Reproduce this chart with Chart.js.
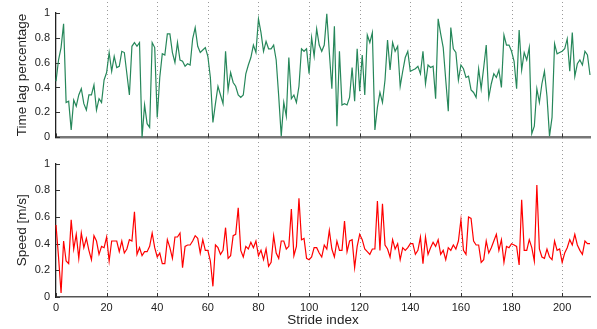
<!DOCTYPE html>
<html>
<head>
<meta charset="utf-8">
<script src="https://cdn.jsdelivr.net/npm/chart.js@4.4.1/dist/chart.umd.min.js"></script>
<style>
html, body { margin: 0; padding: 0; background: #fff; }
#wrap { position: relative; width: 597px; height: 329px; }
canvas { position: absolute; left: 0; }
#lagChart { top: 0; }
#speedChart { top: 150px; }
</style>
</head>
<body>
<div id="wrap">
  <canvas id="lagChart" width="597" height="150"></canvas>
  <canvas id="speedChart" width="597" height="179"></canvas>
</div>
<script>
// data
const timeLag = [
  0.45,0.62,0.72,0.91,0.28,0.29,0.06,0.30,0.25,0.34,
  0.39,0.27,0.22,0.34,0.34,0.42,0.22,0.31,0.28,0.46,
  0.52,0.68,0.53,0.65,0.56,0.57,0.69,0.68,0.51,0.34,
  0.73,0.76,0.73,0.76,0.00,0.26,0.11,0.08,0.76,0.72,
  0.16,0.48,0.67,0.66,0.83,0.83,0.68,0.60,0.76,0.62,
  0.61,0.57,0.59,0.58,0.79,0.88,0.73,0.68,0.70,0.72,
  0.65,0.48,0.12,0.27,0.41,0.34,0.27,0.69,0.38,0.52,
  0.44,0.41,0.34,0.32,0.34,0.51,0.58,0.64,0.74,0.68,
  0.95,0.84,0.69,0.77,0.71,0.71,0.74,0.62,0.33,0.01,
  0.28,0.17,0.64,0.31,0.34,0.28,0.41,0.71,0.69,0.71,
  0.51,0.80,0.65,0.87,0.74,0.69,0.74,0.99,0.68,0.39,
  0.89,0.09,0.69,0.26,0.27,0.26,0.32,0.56,0.29,0.71,
  0.37,0.66,0.34,0.82,0.76,0.84,0.06,0.24,0.36,0.28,
  0.46,0.78,0.54,0.76,0.69,0.73,0.41,0.53,0.64,0.69,
  0.53,0.54,0.55,0.57,0.51,0.69,0.43,0.58,0.56,0.57,
  0.31,0.95,0.83,0.72,0.46,0.21,0.88,0.71,0.68,0.46,
  0.58,0.55,0.48,0.49,0.38,0.36,0.32,0.55,0.39,0.56,
  0.74,0.32,0.43,0.51,0.48,0.54,0.40,0.82,0.74,0.74,
  0.69,0.61,0.39,0.86,0.54,0.68,0.62,0.72,0.03,0.09,
  0.39,0.28,0.43,0.53,0.33,0.01,0.16,0.75,0.67,0.68,
  0.69,0.71,0.79,0.53,0.84,0.49,0.59,0.62,0.58,0.69,
  0.66,0.50
];
const speed = [
  0.54,0.30,0.03,0.42,0.27,0.25,0.58,0.36,0.47,0.29,
  0.48,0.37,0.44,0.35,0.28,0.46,0.42,0.32,0.38,0.37,
  0.45,0.27,0.42,0.42,0.42,0.34,0.42,0.33,0.36,0.43,
  0.42,0.64,0.32,0.37,0.31,0.34,0.34,0.38,0.48,0.37,
  0.30,0.33,0.25,0.25,0.43,0.37,0.29,0.45,0.45,0.48,
  0.22,0.38,0.39,0.39,0.42,0.46,0.44,0.33,0.43,0.35,
  0.35,0.27,0.08,0.39,0.37,0.32,0.35,0.52,0.29,0.31,
  0.46,0.47,0.67,0.35,0.30,0.38,0.36,0.41,0.37,0.42,
  0.31,0.35,0.28,0.36,0.23,0.26,0.46,0.33,0.29,0.42,
  0.42,0.36,0.38,0.66,0.31,0.38,0.74,0.43,0.44,0.29,
  0.28,0.30,0.37,0.37,0.33,0.30,0.39,0.36,0.50,0.36,
  0.30,0.42,0.35,0.35,0.57,0.34,0.42,0.43,0.22,0.38,
  0.47,0.43,0.36,0.34,0.32,0.36,0.36,0.72,0.35,0.70,
  0.39,0.36,0.30,0.43,0.36,0.40,0.28,0.37,0.35,0.37,
  0.40,0.40,0.32,0.35,0.45,0.25,0.45,0.32,0.37,0.41,
  0.38,0.43,0.32,0.35,0.28,0.37,0.35,0.39,0.36,0.42,
  0.58,0.35,0.32,0.60,0.59,0.42,0.39,0.39,0.26,0.28,
  0.42,0.33,0.37,0.42,0.47,0.35,0.43,0.26,0.38,0.37,
  0.40,0.39,0.38,0.24,0.73,0.35,0.35,0.43,0.37,0.27,
  0.84,0.36,0.30,0.29,0.36,0.30,0.28,0.42,0.35,0.36,
  0.26,0.33,0.37,0.43,0.39,0.47,0.39,0.35,0.32,0.42,
  0.40,0.40
];
const strideIdx = timeLag.map((_, i) => i);
const xTicks = [0, 20, 40, 60, 80, 100, 120, 140, 160, 180, 200];
const yTicks = [0, 0.2, 0.4, 0.6, 0.8, 1];

Chart.defaults.font.family = "'Liberation Sans', Arial, sans-serif";
Chart.defaults.color = '#222';

// dotted vertical grid + small inward ticks (matlab style)
const dotGrid = {
  id: 'dotGrid',
  beforeDatasetsDraw(chart, args, opts) {
    const { ctx, chartArea, scales: { x, y } } = chart;
    const bottom = opts.bottom == null ? chartArea.bottom : opts.bottom;
    ctx.save();
    ctx.strokeStyle = '#9a9a9a';
    ctx.lineWidth = 1;
    ctx.setLineDash([1, 3]);
    xTicks.forEach(v => {
      if (v === 0) return;
      const px = Math.round(x.getPixelForValue(v)) + 0.5;
      ctx.beginPath();
      ctx.moveTo(px, opts.top);
      ctx.lineTo(px, bottom);
      ctx.stroke();
    });
    ctx.setLineDash([]);
    ctx.strokeStyle = '#333';
    xTicks.forEach(v => {
      const px = Math.round(x.getPixelForValue(v)) + 0.5;
      ctx.beginPath();
      ctx.moveTo(px, chartArea.bottom);
      ctx.lineTo(px, chartArea.bottom - 4);
      ctx.stroke();
    });
    yTicks.forEach(v => {
      const py = Math.round(y.getPixelForValue(v)) + 0.5;
      ctx.beginPath();
      ctx.moveTo(chartArea.left, py);
      ctx.lineTo(chartArea.left + 4, py);
      ctx.stroke();
    });
    ctx.restore();
  }
};

function makePanel(id, values, color, yTitle, cfg) {
  return new Chart(document.getElementById(id), {
    type: 'line',
    data: {
      datasets: [{
        data: values.map((v, i) => ({ x: strideIdx[i], y: v })),
        borderColor: color,
        borderWidth: 1.2,
        pointRadius: 0,
        tension: 0,
        clip: 3
      }]
    },
    options: {
      responsive: false,
      animation: false,
      layout: { padding: cfg.padding },
      plugins: {
        legend: { display: false },
        tooltip: { enabled: false },
        dotGrid: cfg.grid
      },
      scales: {
        x: {
          type: 'linear',
          min: 0,
          max: 211,
          afterBuildTicks: s => { s.ticks = xTicks.map(v => ({ value: v })); },
          afterFit: s => { s.height = cfg.xHeight; },
          grid: { display: false, drawTicks: false },
          border: { color: cfg.xBorder, width: cfg.xBorderWidth },
          ticks: { display: cfg.showX, padding: 4, font: { size: 11 }, maxRotation: 0 },
          title: {
            display: cfg.showX,
            text: 'Stride index',
            font: { size: 13.5 },
            padding: { top: 0, bottom: 1 }
          }
        },
        y: {
          min: 0,
          max: 1,
          afterBuildTicks: s => { s.ticks = yTicks.map(v => ({ value: v })); },
          afterFit: s => { s.width = 56; },
          grid: { display: false, drawTicks: false },
          border: { color: '#222', width: 1.3 },
          ticks: {
            padding: 6,
            font: { size: 11 },
            callback: v => String(+v.toFixed(1))
          },
          title: {
            display: true,
            text: yTitle,
            font: { size: 13.5 },
            padding: { top: 14, bottom: 0 }
          }
        }
      }
    },
    plugins: [dotGrid]
  });
}

makePanel('lagChart', timeLag, '#26875a', 'Time lag percentage', {
  padding: { top: 10.7, right: 7, bottom: 0, left: 0 },
  xHeight: 5.7,
  xBorder: '#777',
  xBorderWidth: 2.5,
  showX: false,
  grid: { top: 2, bottom: 150 }
});

makePanel('speedChart', speed, '#ff0000', 'Speed [m/s]', {
  padding: { top: 13.7, right: 7, bottom: 0, left: 0 },
  xHeight: 32,
  xBorder: '#555',
  xBorderWidth: 1.6,
  showX: true,
  grid: { top: 0, bottom: null }
});
</script>
</body>
</html>
